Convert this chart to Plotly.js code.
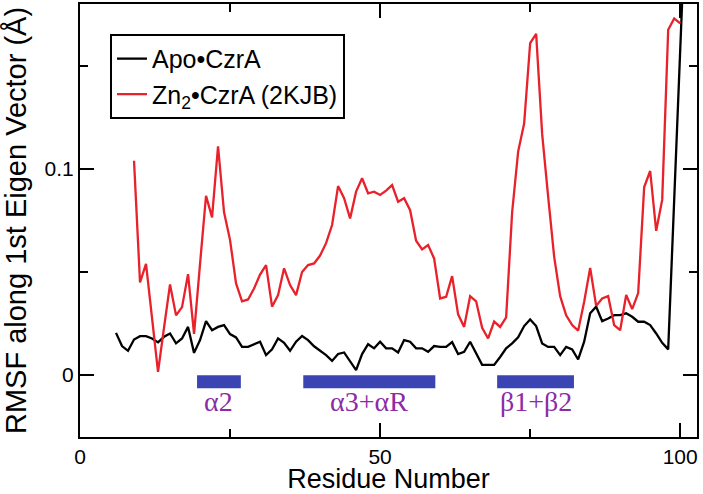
<!DOCTYPE html>
<html>
<head>
<meta charset="utf-8">
<script src="https://cdn.plot.ly/plotly-3.0.1.min.js"></script>
<style>
  html, body { margin: 0; padding: 0; background: #ffffff; }
  #chart { width: 703px; height: 494px; }
</style>
</head>
<body>
<div id="chart"></div>
<script>
// ---- Data ----
const apoResidues = [6,7,8,9,10,11,12,13,14,15,16,17,18,19,20,21,22,23,24,25,26,27,28,29,30,
  31,32,33,34,35,36,37,38,39,40,41,42,43,44,45,46,47,48,49,50,51,52,53,54,55,56,57,58,59,60,
  61,62,63,64,65,66,67,68,69,70,71,72,73,74,75,76,77,78,79,80,81,82,83,84,85,86,87,88,89,90,
  91,92,93,94,95,96,97,98,101];
const apoRMSF = [0.0205,0.0141,0.0118,0.0173,0.0189,0.0189,0.0178,0.0159,0.0186,0.0202,
  0.0154,0.0178,0.0234,0.0108,0.0170,0.0262,0.0218,0.0234,0.0243,0.0199,
  0.0183,0.0137,0.0137,0.0150,0.0162,0.0097,0.0125,0.0178,0.0157,0.0118,
  0.0162,0.0190,0.0170,0.0140,0.0120,0.0097,0.0069,0.0103,0.0110,0.0065,
  0.0024,0.0102,0.0150,0.0130,0.0162,0.0130,0.0130,0.0110,0.0170,0.0162,
  0.0130,0.0130,0.0113,0.0141,0.0137,0.0137,0.0160,0.0102,0.0113,0.0162,
  0.0105,0.0050,0.0050,0.0050,0.0088,0.0130,0.0154,0.0183,0.0238,0.0270,
  0.0238,0.0154,0.0137,0.0137,0.0097,0.0137,0.0125,0.0076,0.0162,0.0300,
  0.0332,0.0262,0.0275,0.0291,0.0291,0.0300,0.0283,0.0259,0.0259,0.0243,
  0.0202,0.0157,0.0125,0.2300];

const znResidues = [9,10,11,12,13,14,15,16,17,18,19,20,21,22,23,24,25,26,27,28,29,30,
  31,32,33,34,35,36,37,38,39,40,41,42,43,44,45,46,47,48,49,50,51,52,53,54,55,56,57,58,59,60,
  61,62,63,64,65,66,67,68,69,70,71,72,73,74,75,76,77,78,79,80,81,82,83,84,85,86,87,88,89,90,
  91,92,93,94,95,96,97,98,99,100];
const znRMSF = [0.1040,0.0450,0.0540,0.0280,0.0016,0.0230,0.0440,0.0290,0.0330,0.0490,
  0.0200,0.0540,0.0870,0.0765,0.1110,0.0790,0.0655,0.0445,0.0358,0.0367,
  0.0420,0.0488,0.0534,0.0332,0.0388,0.0518,0.0437,0.0388,0.0500,0.0534,
  0.0542,0.0580,0.0640,0.0728,0.0917,0.0858,0.0760,0.0890,0.0955,0.0882,
  0.0890,0.0874,0.0895,0.0922,0.0841,0.0858,0.0800,0.0652,0.0610,0.0631,
  0.0566,0.0372,0.0380,0.0480,0.0295,0.0234,0.0383,0.0358,0.0230,0.0178,
  0.0260,0.0234,0.0280,0.0790,0.1084,0.1220,0.1610,0.1655,0.1170,0.0866,
  0.0575,0.0383,0.0290,0.0243,0.0216,0.0356,0.0520,0.0336,0.0372,0.0383,
  0.0243,0.0218,0.0389,0.0320,0.0398,0.0912,0.0990,0.0700,0.0850,0.1675,
  0.1730,0.1706];

// secondary-structure elements (residue ranges) and labels
const ssStart  = [19.5, 37.2, 69.5];
const ssEnd    = [26.8, 59.2, 82.3];
const ssLabels = ['\u03b12', '\u03b13+\u03b1R', '\u03b21+\u03b22'];

const seriesNames = ['Apo\u2022CzrA', 'Zn<sub>2</sub>\u2022CzrA (2KJB)'];
const xTickVals = [0, 50, 100];
const xTickText = ['0', '50', '100'];
const yTickVals = [0, 0.1];
const yTickText = ['0', '0.1'];

// ---- Build figure ----
const traces = [
  { x: apoResidues, y: apoRMSF, type: 'scatter', mode: 'lines', name: seriesNames[0],
    line: { color: '#000000', width: 2.3 } },
  { x: znResidues, y: znRMSF, type: 'scatter', mode: 'lines', name: seriesNames[1],
    line: { color: '#e8212b', width: 2.3 } }
];

const shapes = ssStart.map((s, i) => ({
  type: 'rect', xref: 'x', yref: 'y', x0: s, x1: ssEnd[i], y0: -0.0063, y1: 0,
  fillcolor: '#3b44b3', line: { width: 0 }, layer: 'above'
}));

const annotations = ssLabels.map((t, i) => ({
  x: (ssStart[i] + ssEnd[i]) / 2, y: -0.0128, xref: 'x', yref: 'y',
  text: t, showarrow: false,
  font: { family: 'Liberation Serif, Times New Roman, serif', size: 28, color: '#8b2ba6' }
}));

const axisFont = { family: 'Liberation Sans, Arial, sans-serif', size: 21, color: '#000' };

const layout = {
  width: 703, height: 494,
  margin: { l: 80, r: 6, t: 4, b: 57 },
  paper_bgcolor: '#ffffff', plot_bgcolor: '#ffffff',
  showlegend: true,
  legend: {
    x: 0.0486, y: 0.931, xanchor: 'left', yanchor: 'top',
    bgcolor: '#ffffff', bordercolor: '#000000', borderwidth: 2,
    font: { family: 'Liberation Sans, Arial, sans-serif', size: 25, color: '#000' },
    tracegroupgap: 0
  },
  xaxis: {
    range: [0, 102.8], autorange: false,
    tickmode: 'array', tickvals: xTickVals, ticktext: xTickText,
    ticks: 'inside', ticklen: 14, tickwidth: 2, tickcolor: '#000',
    minor: { dtick: 25, tick0: 0, ticks: 'inside', ticklen: 8, tickwidth: 2, tickcolor: '#000' },
    showline: true, linecolor: '#000', linewidth: 2, mirror: 'ticks',
    showgrid: false, zeroline: false,
    automargin: false,
    tickfont: axisFont,
    title: { text: 'Residue Number', font: { family: 'Liberation Sans, Arial, sans-serif', size: 27, color: '#000' } }
  },
  yaxis: {
    range: [-0.030, 0.180], autorange: false,
    tickmode: 'array', tickvals: yTickVals, ticktext: yTickText,
    ticks: 'inside', ticklen: 14, tickwidth: 2, tickcolor: '#000',
    minor: { dtick: 0.05, tick0: 0, ticks: 'inside', ticklen: 8, tickwidth: 2, tickcolor: '#000' },
    showline: true, linecolor: '#000', linewidth: 2, mirror: 'ticks',
    showgrid: false, zeroline: false,
    automargin: false,
    tickfont: axisFont,
    title: { text: 'RMSF along 1st Eigen Vector (\u00c5)', font: { family: 'Liberation Sans, Arial, sans-serif', size: 29, color: '#000' } }
  },
  shapes: shapes,
  annotations: annotations
};

Plotly.newPlot('chart', traces, layout, { displayModeBar: false, staticPlot: true });
</script>
</body>
</html>
